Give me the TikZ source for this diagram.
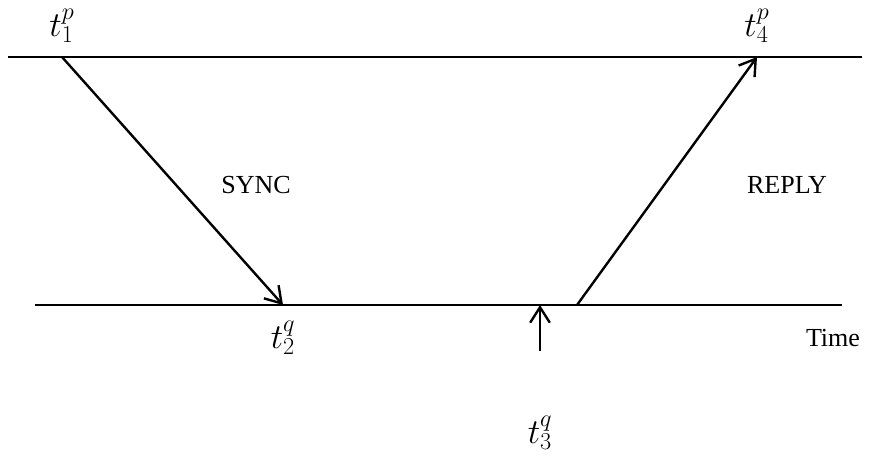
\documentclass[tikz,border=0pt]{standalone}
\usepackage{fontspec}
\setmainfont{Liberation Serif}
\usetikzlibrary{positioning,arrows.meta}

\begin{document}
\begin{tikzpicture}[
    x=0.025cm, y=-0.025cm,
    timeline/.style={draw=black, line width=1.5pt},
    msg/.style={draw=black, line width=1.7pt, -{Straight Barb[length=11pt,width=14pt,line width=1.7pt]}},
    msglabel/.style={font=\fontsize{18.5}{21}\selectfont, inner sep=0pt},
    stamp/.style={font=\fontsize{25}{28}\selectfont, inner sep=0pt}
]
    % Cornice della figura
    \useasboundingbox (0,0) rectangle (871,463);

    % Linee temporali dei due processi
    \coordinate (pL) at (8,57);
    \coordinate (pR) at (862,57);
    \coordinate (qL) at (35,305);
    \coordinate (qR) at (842,305);
    \draw[timeline] (pL) -- (pR);
    \draw[timeline] (qL) -- (qR);

    % Istanti di invio e ricezione
    \coordinate (s1) at (62,57);
    \coordinate (s2) at (283,305);
    \coordinate (s3) at (540,305);
    \coordinate (r3) at (577,305);
    \coordinate (s4) at (757,57);
    \coordinate (s3b) at (540,351);

    % Messaggi
    \draw[msg] (s1) -- (s2);
    \draw[msg] (r3) -- (s4);
    \draw[msg] (s3b) -- (s3);

    \node[msglabel] (sync) at (256,185) {SYNC};
    \node[msglabel] (reply) at (787,185) {REPLY};
    \node[msglabel] (time) at (833,338) {Time};

    % Etichette dei tempi
    \node[stamp] (t1) at (62,26) {$t_1^p$};
    \node[stamp] (t4) at (757,26) {$t_4^p$};
    \node[stamp] (t2) at (283,338) {$t_2^q$};
    \node[stamp] (t3) at (540,433) {$t_3^q$};
\end{tikzpicture}
\end{document}
